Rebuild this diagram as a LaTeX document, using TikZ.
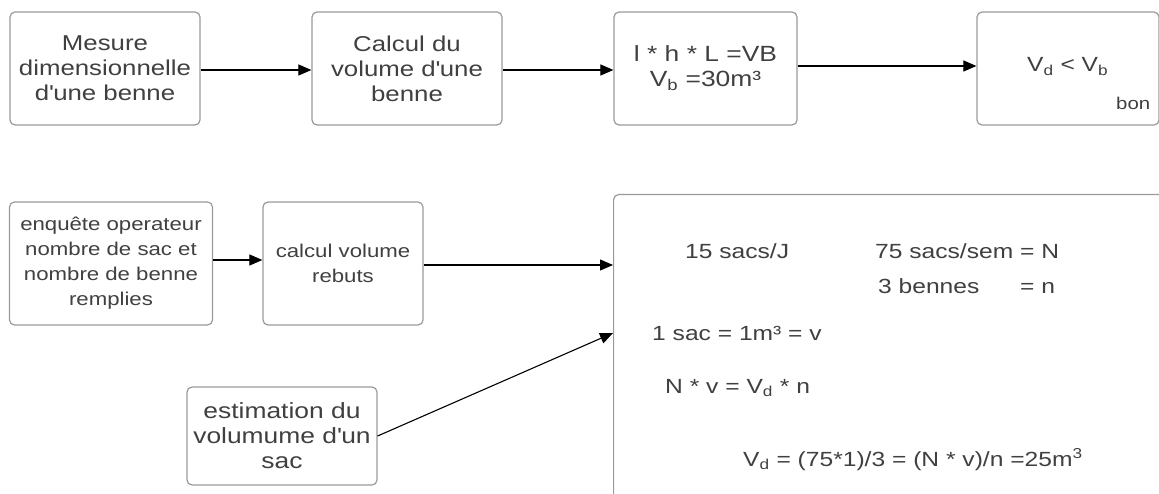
\documentclass[tikz,border=0pt]{standalone}
\usepackage{fontspec}
\setmainfont{Liberation Sans}[FakeStretch=1.2]
\usetikzlibrary{arrows.meta}
\definecolor{txt}{HTML}{404040}
\definecolor{bord}{HTML}{9A9A9A}
\newcommand{\apos}{\textquotesingle}
\tikzset{
  box/.style={draw=bord, line width=1.2pt, rounded corners=5pt, align=center, text=txt, inner sep=0pt},
  conn/.style={draw=black, line width=1.1pt, -{Triangle[length=13pt,width=11pt]}},
  lbl/.style={text=txt, inner sep=0pt},
  fa/.style={font=\fontsize{21.5}{25}\selectfont},
  fb/.style={font=\fontsize{18.5}{25}\selectfont},
  fc/.style={font=\fontsize{20.5}{25}\selectfont},
  fd/.style={font=\fontsize{22}{25}\selectfont},
}
\begin{document}
\begin{tikzpicture}[x=1pt,y=-1pt]
\useasboundingbox (0,0) rectangle (1159,494);
\fill[white] (0,0) rectangle (1159,494);
\begin{scope}
\clip (0,0) rectangle (1159,494);
% top row
\node[box,fa,minimum width=190pt,minimum height=113pt] (b1) at (105,68.5) {Mesure\\dimensionnelle\\d\apos une benne};
\node[box,fa,minimum width=190pt,minimum height=113pt] (b2) at (407,68.5) {Calcul du\\volume d\apos une\\benne};
\node[box,fd,minimum width=183pt,minimum height=113pt] (b3) at (705.5,68.5) {l * h * L =VB\\V\textsubscript{b} =30m³};
\node[box,minimum width=182pt,minimum height=113pt] (b4) at (1068,68.5) {};
\node[lbl,fc,anchor=base west] (vdvb) at (1027,72) {V\textsubscript{d} < V\textsubscript{b}};
\node[lbl,font=\fontsize{17}{20}\selectfont,anchor=base west] (bon) at (1116,110) {bon};
% bottom row
\node[box,fb,minimum width=203pt,minimum height=123pt] (b5) at (111,263.5) {enquête operateur\\nombre de sac et\\nombre de benne\\remplies};
\node[box,fb,minimum width=160pt,minimum height=123pt] (b6) at (343,263.5) {calcul volume\\rebuts};
\node[box,minimum width=560pt,minimum height=330pt,anchor=north west] (b7) at (613,194) {};
\node[box,fd,minimum width=190pt,minimum height=98pt] (b8) at (282,436) {estimation du\\volumume d\apos un\\sac};
% texts in the big box
\node[lbl,fc,anchor=base west] (t1) at (685,259) {15 sacs/J};
\node[lbl,fc,anchor=base west] (t2) at (875,259) {75 sacs/sem = N};
\node[lbl,fc,anchor=base west] (t3) at (878,294) {3 bennes};
\node[lbl,fc,anchor=base west] (t3b) at (1020,294) {= n};
\node[lbl,fc,anchor=base west] (t4) at (652,340) {1 sac = 1m³ = v};
\node[lbl,fc,anchor=base west] (t5) at (665,393) {N * v = V\textsubscript{d} * n};
\node[lbl,fc,anchor=base west] (t6) at (743,466) {V\textsubscript{d} = (75*1)/3 = (N * v)/n =25m\textsuperscript{3}};
% connectors
\draw[conn] (b1.east |- 0,70) -- (b2.west |- 0,70);
\draw[conn] (b2.east |- 0,70) -- (b3.west |- 0,70);
\draw[conn] (b3.east |- 0,66) -- (b4.west |- 0,66);
\draw[conn] (b5.east |- 0,260) -- (b6.west |- 0,260);
\draw[conn] (b6.east |- 0,265) -- (b7.west |- 0,265);
\coordinate (tgt) at (b7.west |- 0,333);
\draw[conn] (b8.east) -- (tgt);
\end{scope}
\end{tikzpicture}
\end{document}
